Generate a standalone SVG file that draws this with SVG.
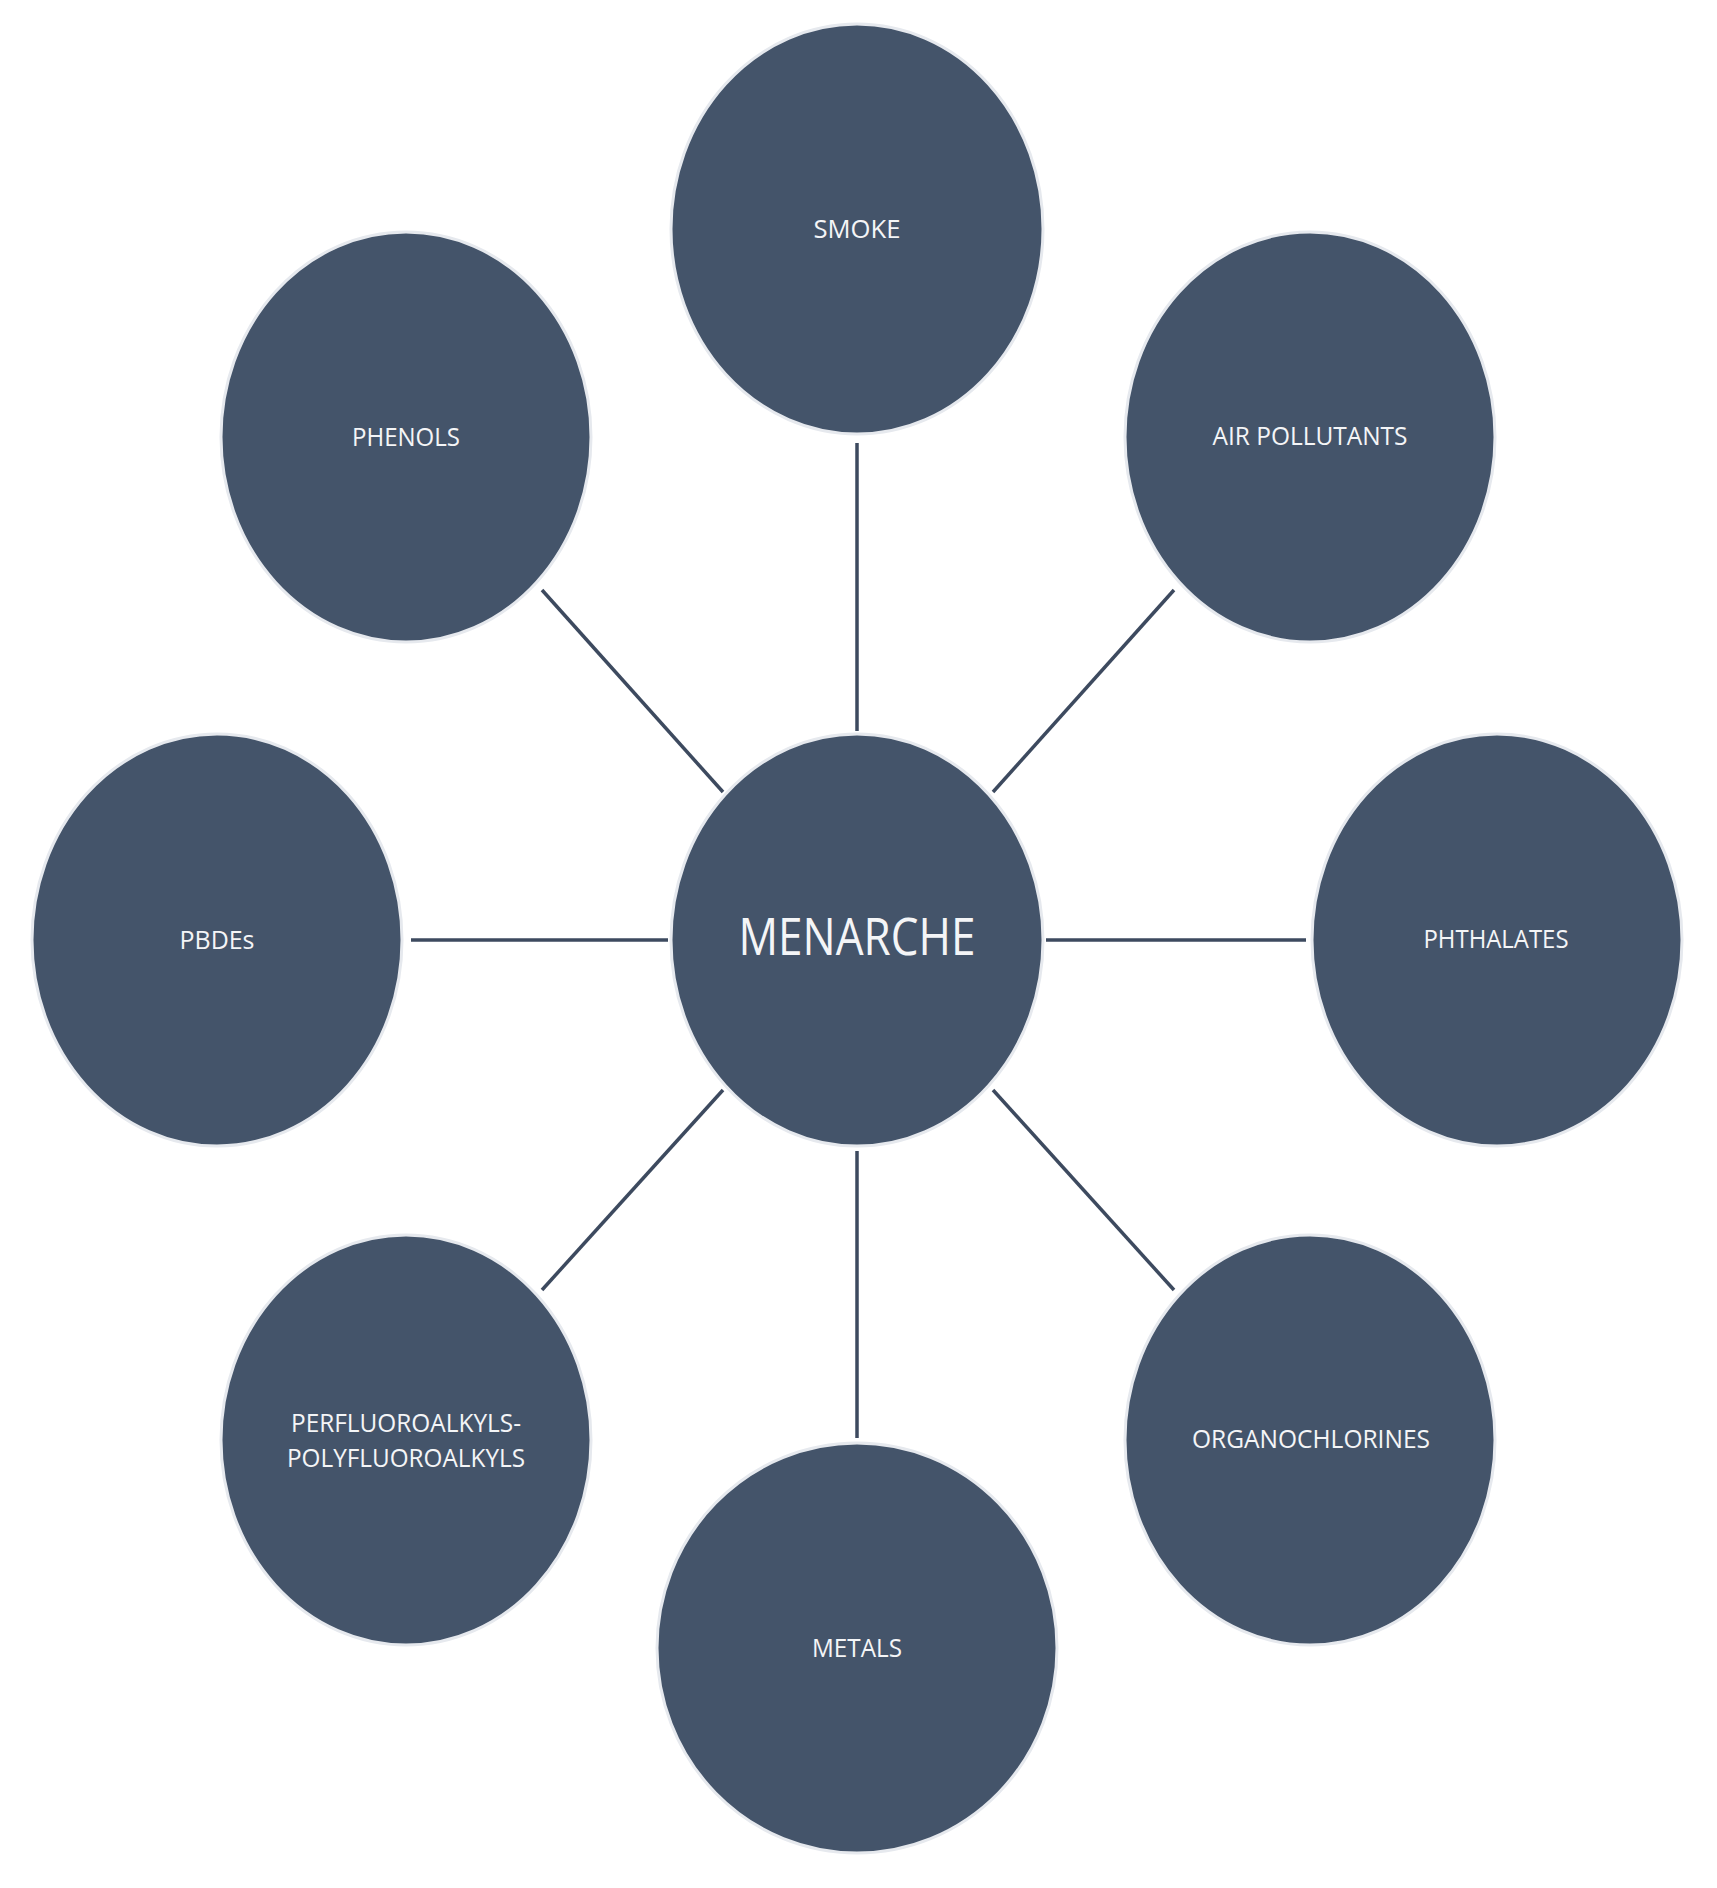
<svg xmlns="http://www.w3.org/2000/svg" width="1717" height="1888" viewBox="0 0 1717 1888">
<style>
.node{fill:#44546A;stroke:#e6e9ee;stroke-width:3}
.lbl{font-family:"Open Sans","Noto Sans","Liberation Sans",sans-serif;font-size:25px;fill:#f4f5f7;text-anchor:middle}
.big{font-size:52px}
.conn line{stroke:#3d4a5f;stroke-width:3.5;stroke-linecap:butt}
</style>
<rect width="1717" height="1888" fill="#ffffff"/>
<g id="connectors" class="conn">
<line x1="857" y1="443" x2="857" y2="731"/>
<line x1="857" y1="1151" x2="857" y2="1438"/>
<line x1="411" y1="940" x2="668" y2="940"/>
<line x1="1046" y1="940" x2="1306" y2="940"/>
<line x1="542" y1="590" x2="723" y2="792"/>
<line x1="1174" y1="590" x2="993" y2="792"/>
<line x1="542" y1="1290" x2="723" y2="1090"/>
<line x1="1174" y1="1290" x2="993" y2="1090"/>
</g>
<g id="smoke"><ellipse class="node" cx="857" cy="229" rx="186" ry="205"/><text class="lbl" x="857" y="238" textLength="87" lengthAdjust="spacingAndGlyphs">SMOKE</text></g>
<g id="phenols"><ellipse class="node" cx="406" cy="437" rx="185" ry="205"/><text class="lbl" x="406" y="446" textLength="108" lengthAdjust="spacingAndGlyphs">PHENOLS</text></g>
<g id="air-pollutants"><ellipse class="node" cx="1310" cy="437" rx="185" ry="205"/><text class="lbl" x="1310" y="445" textLength="195" lengthAdjust="spacingAndGlyphs">AIR POLLUTANTS</text></g>
<g id="pbdes"><ellipse class="node" cx="217" cy="940" rx="185" ry="206"/><text class="lbl" x="217" y="949" textLength="75" lengthAdjust="spacingAndGlyphs">PBDEs</text></g>
<g id="menarche"><ellipse class="node" cx="857" cy="940" rx="186" ry="206"/><text class="lbl big" x="857" y="955" textLength="237" lengthAdjust="spacingAndGlyphs">MENARCHE</text></g>
<g id="phthalates"><ellipse class="node" cx="1497" cy="940" rx="185" ry="206"/><text class="lbl" x="1496" y="948" textLength="145" lengthAdjust="spacingAndGlyphs">PHTHALATES</text></g>
<g id="perfluoroalkyls"><ellipse class="node" cx="406" cy="1440" rx="185" ry="205"/><text class="lbl" x="406" y="1432" textLength="230" lengthAdjust="spacingAndGlyphs">PERFLUOROALKYLS-</text><text class="lbl" x="406" y="1467" textLength="238" lengthAdjust="spacingAndGlyphs">POLYFLUOROALKYLS</text></g>
<g id="organochlorines"><ellipse class="node" cx="1310" cy="1440" rx="185" ry="205"/><text class="lbl" x="1311" y="1448" textLength="238" lengthAdjust="spacingAndGlyphs">ORGANOCHLORINES</text></g>
<g id="metals"><ellipse class="node" cx="857" cy="1648" rx="200" ry="205"/><text class="lbl" x="857" y="1657" textLength="90" lengthAdjust="spacingAndGlyphs">METALS</text></g>
</svg>
